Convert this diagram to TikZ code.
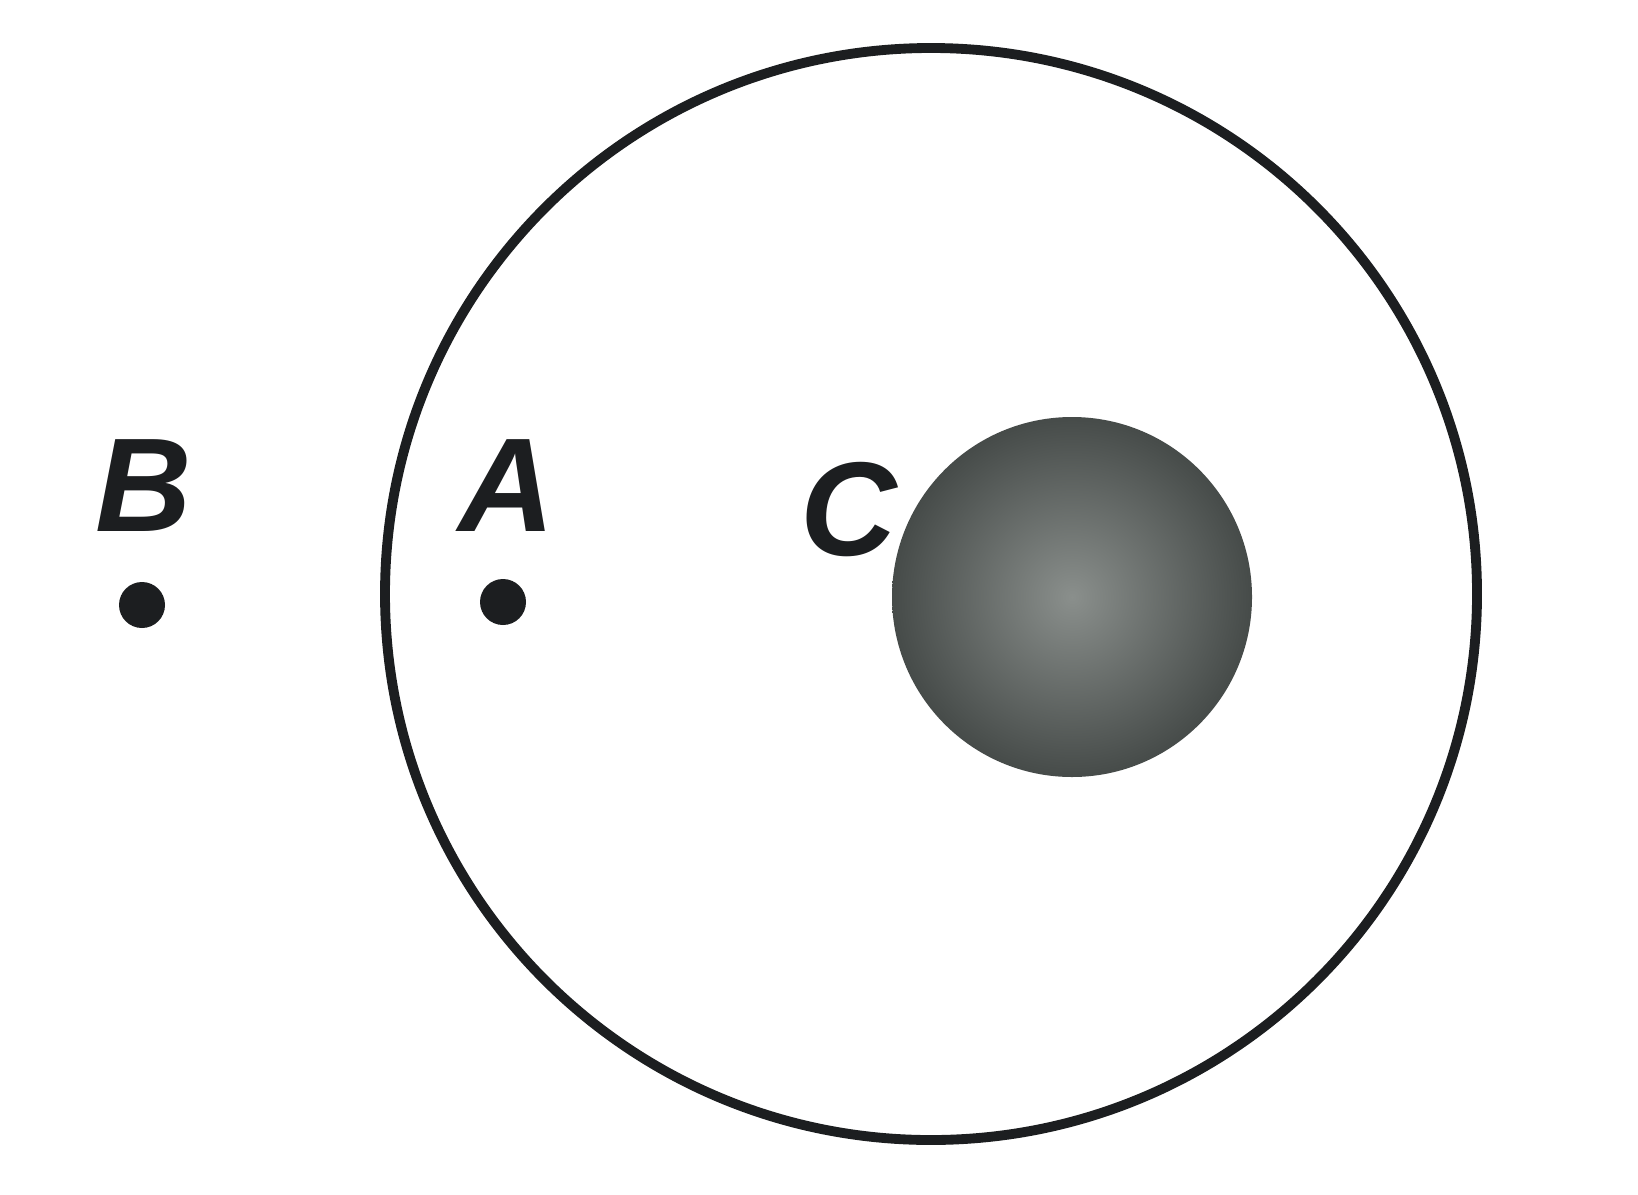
\documentclass[tikz,border=0pt]{standalone}
\usepackage{fontspec}
\newfontfamily\labfont{Liberation Sans}
\definecolor{balldark}{RGB}{70,75,73}
\definecolor{balllight}{RGB}{138,143,140}
\definecolor{inkblack}{RGB}{28,30,32}
\tikzset{
  ring/.style={draw=inkblack, line width=2.8pt},
  dotpt/.style={circle, fill=inkblack, inner sep=0pt, minimum size=0.46cm},
  lbl/.style={font=\labfont\bfseries\itshape\fontsize{38}{38}\selectfont, text=inkblack, inner sep=0pt},
}
\begin{document}
\begin{tikzpicture}
\useasboundingbox (0,0) rectangle (16.38,11.94);
% outer sphere
\node[ring, circle, minimum size=10.92cm, inner sep=0pt] (outer) at (9.31,6.00) {};
% charged ball
\node[circle, inner sep=0pt, minimum size=3.60cm, inner color=balllight, outer color=balldark] (ball) at (10.72,5.97) {};
% points
\node[dotpt] (pB) at (1.42,5.89) {};
\node[dotpt] (pA) at (5.03,5.92) {};
% labels
\node[lbl] (lB) at (1.44,7.08) {B};
\node[lbl] (lA) at (5.07,7.08) {A};
\node[lbl] (lC) at (8.49,6.84) {C};
\end{tikzpicture}
\end{document}
